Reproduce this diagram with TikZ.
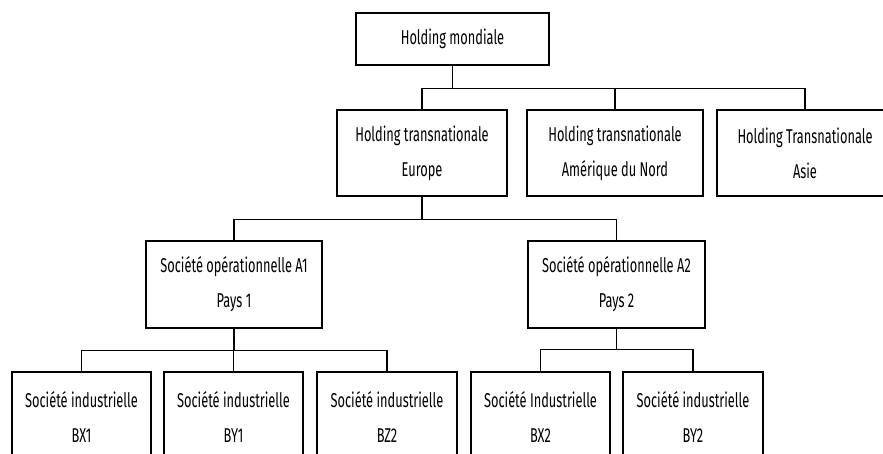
\documentclass[tikz,border=0pt]{standalone}
\usepackage{fontspec}
\setmainfont[FakeStretch=0.64]{Fira Sans}
\begin{document}
\begin{tikzpicture}[x=1pt,y=-1pt,
  box/.style={draw, line width=1.5pt, rectangle, inner sep=0pt, align=center,
    font=\fontsize{20}{35}\selectfont},
  link/.style={line width=1.4pt}]
\useasboundingbox (0,0) rectangle (883,454);
\clip (0,0) rectangle (883,454);
% level 0
\node[box, minimum width=193pt, minimum height=52pt] (HM) at (452.5,39) {Holding mondiale};
% level 1
\node[box, minimum width=170pt, minimum height=86pt] (HE) at (422,153) {Holding transnationale\\Europe};
\node[box, minimum width=176pt, minimum height=86pt] (HN) at (615,153) {Holding transnationale\\Amérique du Nord};
\node[box, minimum width=176pt, minimum height=86pt] (HA) at (805,153) {Holding Transnationale\\Asie};
% level 2
\node[box, minimum width=176pt, minimum height=87pt] (A1) at (234,284.5) {Société opérationnelle A1\\Pays 1};
\node[box, minimum width=177pt, minimum height=87pt] (A2) at (616.5,284.5) {Société opérationnelle A2\\Pays 2};
% level 3
\node[box, minimum width=139pt, minimum height=90pt] (BX1) at (81.5,417) {Société industrielle\\BX1};
\node[box, minimum width=139pt, minimum height=90pt] (BY1) at (233.5,417) {Société industrielle\\BY1};
\node[box, minimum width=140pt, minimum height=90pt] (BZ2) at (387,417) {Société industrielle\\BZ2};
\node[box, minimum width=139pt, minimum height=90pt] (BX2) at (540.5,417) {Société Industrielle\\BX2};
\node[box, minimum width=140pt, minimum height=90pt] (BY2) at (693,417) {Société industrielle\\BY2};
% connectors
\draw[link] (HM.south) -- ++(0,23) coordinate (j1);
\draw[link] (HE.north) |- (j1) -| (HA.north);
\draw[link] (HN.north) -- (HN.north |- j1);
\draw[link] (HE.south) -- ++(0,23) coordinate (j2);
\draw[link] (A1.north) |- (j2) -| (A2.north);
\draw[link] (A1.south) -- ++(0,22) coordinate (j3);
\draw[link] (BX1.north) |- (j3) -| (BZ2.north);
\draw[link] (BY1.north) -- (BY1.north |- j3);
\draw[link] (A2.south) -- ++(0,21) coordinate (j4);
\draw[link] (BX2.north) |- (j4) -| (BY2.north);
\end{tikzpicture}
\end{document}
